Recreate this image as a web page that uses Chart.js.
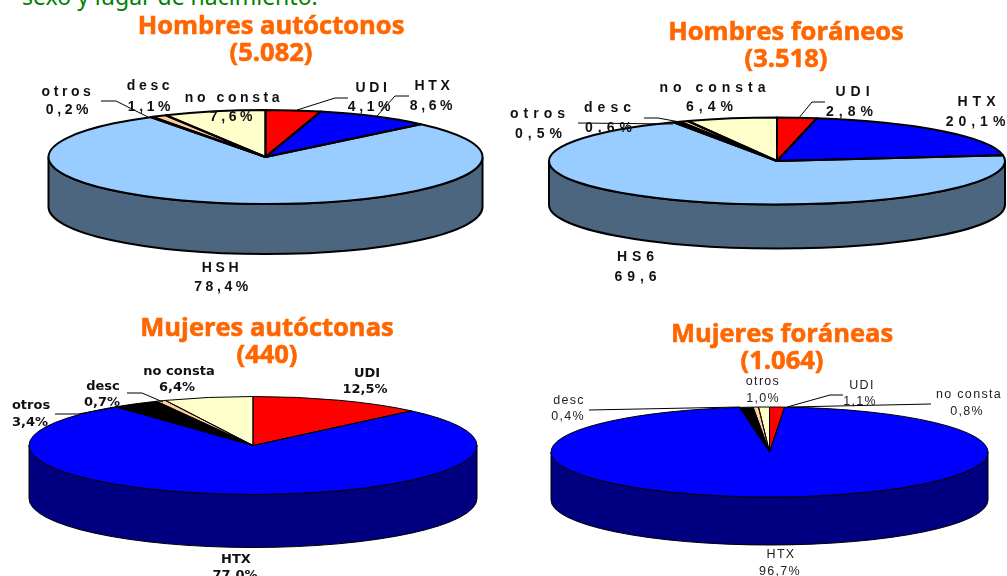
<!DOCTYPE html>
<html lang="es">
<head>
<meta charset="utf-8">
<title>Sexo y lugar de nacimiento</title>
<script src="https://cdn.jsdelivr.net/npm/chart.js@4"></script>
<style>
  html, body { margin:0; padding:0; background:#fff; overflow:hidden; }
  #page { position:relative; width:1007px; height:576px; overflow:hidden; }
  #page canvas { position:absolute; left:0; top:0; }
  #header { position:absolute; left:22px; top:-17px; color:#008000; white-space:nowrap;
            font:23px/26px "Noto Sans", sans-serif; }
</style>
</head>
<body>
<div id="page">
  <div id="header">sexo y lugar de nacimiento.</div>
  <canvas id="c0" width="1007" height="576"></canvas>
  <canvas id="c1" width="1007" height="576"></canvas>
  <canvas id="c2" width="1007" height="576"></canvas>
  <canvas id="c3" width="1007" height="576"></canvas>
</div>
<script>
// values, clockwise from 12 o'clock
const labelsHA = ['UDI', 'HTX', 'HSH', 'otros', 'desc', 'no consta'];
const valuesHA = [4.1, 8.6, 78.4, 0.2, 1.1, 7.6];
const textsHA  = ['4,1%', '8,6%', '78,4%', '0,2%', '1,1%', '7,6%'];

const labelsHF = ['UDI', 'HTX', 'HS6', 'otros', 'desc', 'no consta'];
const valuesHF = [2.8, 20.1, 69.6, 0.5, 0.6, 6.4];
const textsHF  = ['2,8%', '20,1%', '69,6', '0,5%', '0,6%', '6,4%'];

const labelsMA = ['UDI', 'HTX', 'otros', 'desc', 'no consta'];
const valuesMA = [12.5, 77.0, 3.4, 0.7, 6.4];
const textsMA  = ['12,5%', '77,0%', '3,4%', '0,7%', '6,4%'];

const labelsMF = ['UDI', 'HTX', 'otros', 'desc', 'no consta'];
const valuesMF = [1.1, 96.7, 1.0, 0.4, 0.8];
const textsMF  = ['1,1%', '96,7%', '1,0%', '0,4%', '0,8%'];

const COLORS = { UDI:'#ff0000', HTX:'#0000ff', HSH:'#99ccff', HS6:'#99ccff', otros:'#000000', desc:'#ffcc99', 'no consta':'#ffffcc' };
const SIDES  = { UDI:'#800000', HTX:'#000080', HSH:'#4d6680', HS6:'#4d6680', otros:'#000000', desc:'#806650', 'no consta':'#808066' };

const charts = [
  {
    id:'c0', title:['Hombres autóctonos', '(5.082)'], titleX:271, titleY:[27, 54],
    labels:labelsHA, values:valuesHA, texts:textsHA,
    cx:265.5, cy:157, rx:217, ry:47, depth:50, edge:2,
    font:'bold 14px "Liberation Sans"', spacing:'3.6px', color:'#111',
    // name x,y then value x,y, same order as the labels
    pos:[[373,88,371,107],[434,86,433,106],[222,268,223,287],[68,92,69,110],[150,86,151,107],[234,98,233,117]],
    leaders:[[[348,98],[335,98],[297,110]], [[409,96],[395,96],[377,116]], [[101,101],[116,101],[148,117]]],
  },
  {
    id:'c1', title:['Hombres foráneos', '(3.518)'], titleX:786, titleY:[33, 60],
    labels:labelsHF, values:valuesHF, texts:textsHF,
    cx:777, cy:161, rx:228, ry:43.5, depth:44, edge:2,
    font:'bold 14px "Liberation Sans"', spacing:'5px', color:'#111',
    pos:[[855,92,852,112],[979,102,978,122],[638,257,638,277],[540,114,541,134],[610,108,611,128],[715,88,712,107]],
    leaders:[[[825,102],[812,102],[798,119]], [[578,123],[673,124]], [[644,118],[658,118],[680,122]]],
  },
  {
    id:'c2', title:['Mujeres autóctonas', '(440)'], titleX:267, titleY:[329, 356],
    labels:labelsMA, values:valuesMA, texts:textsMA,
    cx:253, cy:445.5, rx:224, ry:49, depth:53, edge:1,
    font:'bold 13px "DejaVu Sans"', spacing:'0px', color:'#111',
    pos:[[367,374,365,390],[236,560,235,576],[31,406,30,423],[103,387,102,403],[179,372,177,388]],
    leaders:[[[55,414],[78,414],[117,407]], [[127,393],[142,393],[163,402]]],
  },
  {
    id:'c3', title:['Mujeres foráneas', '(1.064)'], titleX:782, titleY:[335, 362],
    labels:labelsMF, values:valuesMF, texts:textsMF,
    cx:769.5, cy:452, rx:218.5, ry:45, depth:48, edge:1,
    font:'12.5px "Liberation Sans"', spacing:'1.3px', color:'#222',
    pos:[[862,386,860,402],[781,555,780,572],[763,382,763,399],[569,401,568,417],[969,395,967,412]],
    leaders:[[[843,395],[830,395],[787,407]], [[589,410],[740,407]], [[931,404],[790,407]]],
  },
];

// the library draws a circle; squash it into the ellipse and add the rim by hand
const tiltedPie = {
  id:'tiltedPie',
  beforeDatasetsDraw(chart, args, opts) {
    const c = opts.cfg, ctx = chart.ctx;
    const arcs = chart.getDatasetMeta(0).data;
    ctx.save();
    ctx.lineWidth = c.edge;
    ctx.strokeStyle = '#000';
    arcs.forEach((a, i) => {
      const from = Math.max(a.startAngle, 0), to = Math.min(a.endAngle, Math.PI);
      if (to <= from) return;
      ctx.beginPath();
      ctx.ellipse(c.cx, c.cy, c.rx, c.ry, 0, from, to);
      ctx.ellipse(c.cx, c.cy + c.depth, c.rx, c.ry, 0, to, from, true);
      ctx.closePath();
      ctx.fillStyle = SIDES[c.labels[i]];
      ctx.fill();
      ctx.stroke();
    });
    ctx.restore();
    const first = arcs[0];
    ctx.save();
    ctx.translate(c.cx, c.cy);
    ctx.scale(1, c.ry / c.rx);
    ctx.translate(-first.x, -first.y);
  },
  afterDatasetsDraw(chart, args, opts) {
    const c = opts.cfg, ctx = chart.ctx;
    ctx.restore();
    ctx.save();
    ctx.lineWidth = c.edge;
    ctx.strokeStyle = '#000';
    ctx.lineJoin = 'round';
    chart.getDatasetMeta(0).data.forEach(a => {
      ctx.beginPath();
      ctx.moveTo(c.cx, c.cy);
      ctx.ellipse(c.cx, c.cy, c.rx, c.ry, 0, a.startAngle, a.endAngle);
      ctx.closePath();
      ctx.stroke();
    });
    ctx.lineWidth = 1;
    c.leaders.forEach(pts => {
      ctx.beginPath();
      pts.forEach((p, i) => i ? ctx.lineTo(p[0], p[1]) : ctx.moveTo(p[0], p[1]));
      ctx.stroke();
    });
    ctx.textAlign = 'center';
    ctx.textBaseline = 'middle';
    ctx.font = c.font;
    ctx.letterSpacing = c.spacing;
    ctx.fillStyle = c.color;
    c.labels.forEach((name, i) => {
      const p = c.pos[i];
      ctx.fillText(name, p[0], p[1]);
      ctx.fillText(c.texts[i], p[2], p[3]);
    });
    ctx.letterSpacing = '0px';
    ctx.font = 'bold 25.5px "Open Sans"';
    ctx.fillStyle = '#ff6600';
    ctx.strokeStyle = '#ff6600';
    ctx.lineWidth = 0.6;
    c.title.forEach((t, i) => {
      ctx.fillText(t, c.titleX, c.titleY[i]);
      ctx.strokeText(t, c.titleX, c.titleY[i]);
    });
    ctx.restore();
  },
};

charts.forEach(c => {
  new Chart(document.getElementById(c.id), {
    type: 'pie',
    data: {
      labels: c.labels,
      datasets: [{
        data: c.values,
        backgroundColor: c.labels.map(l => COLORS[l]),
        borderWidth: 0,
        radius: c.rx,
      }],
    },
    options: {
      responsive: false,
      animation: false,
      plugins: { legend:{ display:false }, tooltip:{ enabled:false }, tiltedPie:{ cfg:c } },
    },
    plugins: [tiltedPie],
  });
});
</script>
</body>
</html>
